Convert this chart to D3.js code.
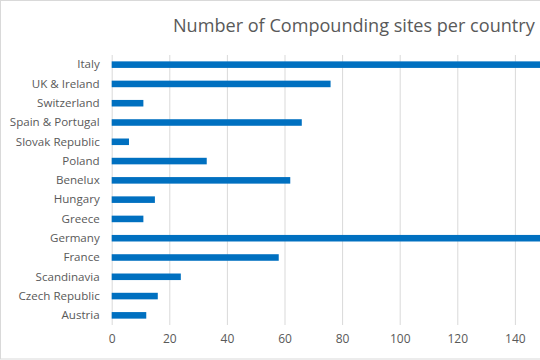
<!DOCTYPE html>
<html>
<head>
<meta charset="utf-8">
<script src="https://cdn.jsdelivr.net/npm/d3@7"></script>
<style>
  html, body { margin: 0; padding: 0; background: #fff; }
  svg { display: block; }
</style>
</head>
<body>
<div id="chart"></div>
<script>
const categories = ["Italy", "UK & Ireland", "Switzerland", "Spain & Portugal", "Slovak Republic", "Poland", "Benelux", "Hungary", "Greece", "Germany", "France", "Scandinavia", "Czech Republic", "Austria"];
const values = [175, 76, 11, 66, 6, 33, 62, 15, 11, 170, 58, 24, 16, 12];
const xTicks = [0, 20, 40, 60, 80, 100, 120, 140];
const titleText = "Number of Compounding sites per country";

const W = 540, H = 360;
const FONT = "'Open Sans', 'Noto Sans', sans-serif";
const TXT = "#595959";
const GRID = "#d9d9d9";
const BAR = "#0070c0";

const svg = d3.select("#chart").append("svg")
  .attr("width", W).attr("height", H);

// outer frame (right side cropped)
svg.append("rect")
  .attr("x", 0.5).attr("y", 0.5)
  .attr("width", W + 20).attr("height", H - 1.5)
  .attr("fill", "#fff").attr("stroke", GRID);

const x0 = 111.7, pxPerUnit = 2.88;
const x = d3.scaleLinear().domain([0, 160]).range([x0, x0 + 160 * pxPerUnit]);
const y = d3.scaleBand().domain(categories).range([55, 325])
  .paddingInner(0.66).paddingOuter(0.33);

// gridlines
const grid = svg.append("g")
  .attr("transform", "translate(0,325)")
  .call(d3.axisBottom(x).tickValues(xTicks).tickSize(-270).tickFormat(""));
grid.select(".domain").remove();
grid.selectAll("line").attr("stroke", GRID).attr("stroke-width", 1);

// bars
svg.append("g").selectAll("rect")
  .data(categories)
  .join("rect")
  .attr("x", x(0))
  .attr("y", (d) => y(d))
  .attr("width", (d, i) => x(values[i]) - x(0))
  .attr("height", y.bandwidth())
  .attr("fill", BAR);

// x tick labels
const xa = svg.append("g")
  .attr("transform", "translate(0,325)")
  .call(d3.axisBottom(x).tickValues(xTicks).tickSize(0).tickPadding(9));
xa.select(".domain").remove();
xa.selectAll("text")
  .attr("font-family", FONT).attr("font-size", 12).attr("fill", TXT);

// y category labels
const ya = svg.append("g")
  .attr("transform", "translate(" + (x0 - 12) + ",0)")
  .call(d3.axisLeft(y).tickSize(0).tickPadding(0));
ya.select(".domain").remove();
ya.selectAll("text")
  .attr("font-family", FONT).attr("font-size", 12).attr("fill", TXT);

// fit category label size so "Spain & Portugal" is ~90px wide
let ref = ya.selectAll("text").filter((d) => d === "Spain & Portugal").node();
if (ref) {
  const w = ref.getComputedTextLength();
  const fs = 12 * 90 / w;
  ya.selectAll("text").attr("font-size", fs);
}

// title
const t = svg.append("text")
  .attr("x", 173).attr("y", 32)
  .attr("font-family", FONT).attr("font-size", 18).attr("fill", TXT)
  .text(titleText);
const tw = t.node().getComputedTextLength();
t.attr("font-size", 18 * 362 / tw);
</script>
</body>
</html>
